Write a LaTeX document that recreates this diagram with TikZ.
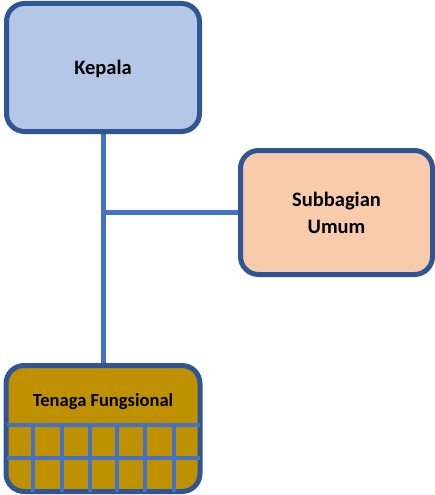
\documentclass[tikz,border=0pt]{standalone}
\usepackage{fontspec}
\setmainfont{Carlito}
\usepackage{tikz}
\usetikzlibrary{positioning,calc}
\definecolor{bluebox}{RGB}{180,199,231}
\definecolor{peachbox}{RGB}{248,203,173}
\definecolor{goldbox}{RGB}{191,144,0}
\definecolor{edgeblue}{RGB}{47,85,151}
\definecolor{linkblue}{RGB}{68,114,196}
\tikzset{
  unit/.style={
    draw=edgeblue,
    rounded corners=18pt,
    line width=5pt,
    align=center,
    inner sep=0pt,
    text depth=0pt,
    font=\fontsize{20.5}{27}\selectfont\bfseries
  },
  link/.style={draw=linkblue, line width=5pt},
  grid/.style={draw=linkblue, line width=4pt}
}

\begin{document}
\begin{tikzpicture}[x=1pt,y=-1pt]
        \useasboundingbox (0,0) rectangle (435,495);
        \node[unit, fill=bluebox, minimum width=193pt, minimum height=128pt] (kep) at (103,67.5) {Kepala};
        \node[unit, fill=peachbox, minimum width=192pt, minimum height=124pt] (sub) at (336.5,212.5) {Subbagian\\Umum};
        \node[unit, fill=goldbox, minimum width=194pt, minimum height=126pt] (tf) at (103,428.5) {};
        \node[font=\fontsize{18.5}{22}\selectfont\bfseries, inner sep=0pt] (tfl) at ([yshift=-39pt]tf.north) {Tenaga Fungsional};
        % grid in the bottom box
        \foreach \y in {424.5,458} \draw[grid] (6.5,\y) -- (200,\y);
        \foreach \x in {33,61.5,89.5,117,145,173.5} \draw[grid] (\x,424.5) -- (\x,492);
        \draw[link] (kep.south) -- (tf.north);
        \draw[link] (sub.west) -- (sub.west -| kep.south);
      \end{tikzpicture}
\end{document}
